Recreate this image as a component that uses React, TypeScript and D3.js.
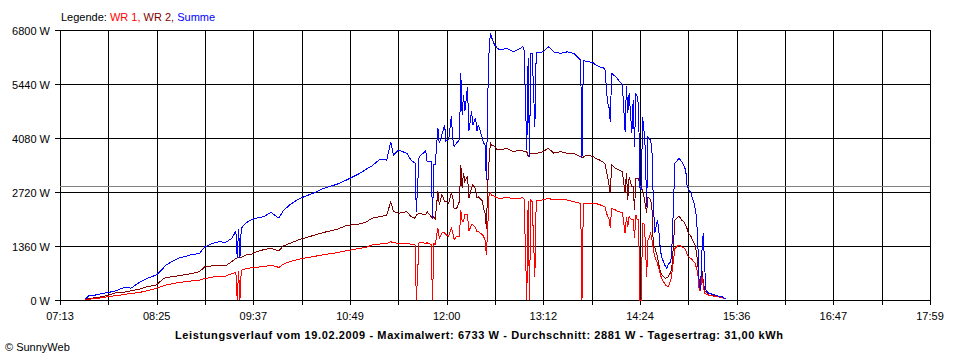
import React from 'react';
import * as d3 from 'd3';

// ---- axis / labels ----
const timeLabels = ['07:13', '08:25', '09:37', '10:49', '12:00', '13:12', '14:24', '15:36', '16:47', '17:59'];
const yTicks = [0, 1360, 2720, 4080, 5440, 6800];
const averageW = 2881;
const titleText = 'Leistungsverlauf vom 19.02.2009 - Maximalwert: 6733 W - Durchschnitt: 2881 W - Tagesertrag: 31,00 kWh';

// ---- data (time of day, W) ----
const times = [
  '07:32', '07:35', '07:41', '07:45', '07:49', '07:55', '08:00', '08:03', '08:06', '08:12',
  '08:18', '08:25', '08:30', '08:32', '08:41', '08:51', '08:57', '09:01', '09:07', '09:12',
  '09:16', '09:21', '09:24', '09:25', '09:26', '09:27', '09:28', '09:31', '09:36', '09:41',
  '09:45', '09:50', '09:56', '09:59', '10:04', '10:11', '10:21', '10:29', '10:39', '10:46',
  '10:56', '11:01', '11:05', '11:11', '11:16', '11:19', '11:21', '11:25', '11:31', '11:34',
  '11:37', '11:38', '11:40', '11:45', '11:46', '11:49', '11:50', '11:51', '11:52', '11:54',
  '11:55', '11:57', '11:59', '12:00', '12:02', '12:04', '12:05', '12:06', '12:08', '12:10',
  '12:11', '12:12', '12:13', '12:14', '12:16', '12:17', '12:19', '12:20', '12:22', '12:23',
  '12:24', '12:27', '12:28', '12:29', '12:30', '12:31', '12:32', '12:33', '12:34', '12:36',
  '12:38', '12:40', '12:45', '12:50', '12:55', '12:57', '12:58', '13:00', '13:01', '13:02',
  '13:03', '13:04', '13:06', '13:07', '13:12', '13:16', '13:20', '13:25', '13:30', '13:35',
  '13:40', '13:41', '13:42', '13:44', '13:49', '13:51', '13:54', '13:56', '13:58', '14:00',
  '14:01', '14:02', '14:03', '14:06', '14:08', '14:11', '14:13', '14:14', '14:15', '14:16',
  '14:18', '14:19', '14:20', '14:21', '14:22', '14:23', '14:24', '14:25', '14:26', '14:27',
  '14:28', '14:29', '14:30', '14:32', '14:33', '14:34', '14:35', '14:37', '14:38', '14:39',
  '14:40', '14:43', '14:44', '14:45', '14:47', '14:48', '14:50', '14:52', '14:53', '14:55',
  '14:57', '14:58', '14:59', '15:00', '15:02', '15:03', '15:04', '15:05', '15:06', '15:07',
  '15:08', '15:09', '15:10', '15:11', '15:12', '15:13', '15:15', '15:20', '15:22', '15:25',
  '15:27', '15:28',
];

const wr1 = [
  0, 20, 40, 60, 85, 110, 130, 150, 165, 185,
  235, 295, 350, 380, 435, 480, 500, 540, 580, 590,
  600, 660, 700, 0, 720, 0, 750, 780, 820, 830,
  840, 880, 820, 900, 965, 1030, 1090, 1140, 1190, 1240,
  1300, 1330, 1385, 1410, 1420, 1470, 1440, 1430, 1430, 1400,
  1385, 0, 1450, 1430, 1440, 1400, 0, 1420, 1395, 1815,
  1560, 1690, 1690, 1645, 1600, 1815, 1700, 1520, 1605, 1605,
  2275, 1980, 1980, 2150, 2150, 1730, 1895, 1895, 1820, 1730,
  1730, 1645, 1600, 1500, 1140, 1815, 2650, 2695, 2640, 2610,
  2570, 2560, 2580, 2560, 2560, 2580, 2540, 0, 2500, 0,
  2520, 2475, 590, 2500, 2520, 2560, 2520, 2520, 2520, 2475,
  2435, 0, 2435, 2435, 2420, 2435, 2400, 2380, 2350, 2100,
  2050, 1805, 2310, 2265, 2225, 2200, 1680, 2100, 1845, 2100,
  2015, 2015, 1555, 2140, 2015, 2015, 0, 0, 1930, 1930,
  1500, 590, 1500, 1680, 1500, 1260, 1100, 925, 800, 670,
  550, 380, 350, 335, 500, 755, 1300, 1360, 1385, 1340,
  1300, 1250, 1150, 1090, 1040, 1005, 960, 925, 800, 670,
  250, 250, 590, 400, 170, 150, 125, 85, 85, 60,
  40, 40,
];

const wr2 = [
  0, 40, 60, 85, 120, 185, 190, 210, 230, 270,
  335, 380, 530, 560, 610, 665, 715, 840, 860, 865,
  855, 965, 1050, 1060, 1060, 1070, 1075, 1130, 1160, 1235,
  1270, 1300, 1240, 1360, 1425, 1520, 1620, 1700, 1780, 1875,
  1915, 1970, 2060, 2100, 2140, 2475, 2225, 2185, 2225, 2100,
  2060, 2140, 2185, 2140, 2225, 2100, 2060, 2100, 2020, 2740,
  2400, 2650, 2485, 2485, 2440, 2695, 2600, 2315, 2315, 2485,
  3410, 2820, 3200, 2990, 3105, 2570, 2820, 2905, 2800, 2570,
  2600, 2500, 2300, 2200, 1800, 2905, 3495, 3955, 3900, 3870,
  3785, 3780, 3820, 3735, 3780, 3760, 3735, 3735, 3610, 3650,
  3700, 3695, 3695, 3690, 3735, 3820, 3700, 3735, 3695, 3695,
  3610, 3570, 3600, 3650, 3620, 3570, 3525, 3485, 3440, 3105,
  2900, 2685, 3400, 3315, 3280, 3230, 2685, 3200, 2520, 3105,
  2855, 2855, 2265, 3065, 3065, 3065, 2855, 2800, 2770, 2600,
  2400, 2200, 2600, 2520, 2265, 1340, 1340, 1090, 900, 755,
  650, 545, 560, 590, 700, 925, 2015, 2080, 2115, 2015,
  1950, 1890, 1800, 1680, 1600, 1510, 1450, 1385, 1200, 925,
  335, 400, 755, 500, 250, 200, 125, 100, 85, 60,
  40, 40,
];

const summe = [
  20, 110, 130, 170, 185, 235, 300, 320, 295, 435,
  545, 630, 800, 880, 1050, 1140, 1175, 1340, 1430, 1470,
  1445, 1550, 1740, 1060, 1780, 1070, 1800, 1930, 2030, 2075,
  2100, 2210, 2060, 2240, 2400, 2550, 2685, 2810, 2915, 3020,
  3190, 3300, 3375, 3550, 3525, 3985, 3650, 3780, 3690, 3525,
  3450, 2225, 3600, 3760, 3485, 3480, 2060, 3420, 3410, 4330,
  3945, 4165, 4415, 4000, 4040, 4630, 4080, 3870, 3955, 4040,
  5720, 4665, 5170, 4750, 5370, 4250, 4750, 4415, 4585, 4250,
  4415, 4080, 3950, 3900, 3020, 5090, 6260, 6733, 6600, 6430,
  6345, 6300, 6335, 6250, 6335, 6380, 6300, 3780, 6100, 3610,
  6200, 6210, 4365, 6220, 6250, 6380, 6250, 6210, 6250, 6210,
  6045, 3570, 6040, 6000, 5990, 5920, 5875, 5850, 5835, 4955,
  4870, 4490, 5710, 5625, 5540, 5415, 4240, 5400, 4700, 5205,
  4200, 5035, 3860, 5205, 5120, 4900, 2820, 2800, 4615, 4280,
  3800, 2340, 4100, 4030, 3700, 2435, 1680, 2015, 1765, 1340,
  1090, 840, 800, 900, 965, 1510, 3440, 3525, 3570, 3485,
  3350, 3275, 2895, 2800, 2685, 2550, 2475, 2300, 2100, 1430,
  400, 250, 1200, 1680, 925, 250, 170, 125, 100, 85,
  40, 40,
];

const FONT = '"Liberation Sans", Arial, sans-serif';

function toMinutes(s: string): number {
  const [h, m] = s.split(':').map(Number);
  return h * 60 + m;
}

export default function App() {
  const x = d3.scaleLinear().domain([433.4, 1079.4]).range([60, 930]);
  const y = d3.scaleLinear().domain([0, 6800]).range([300, 30]);

  const nGrid = 18;
  const gridVals = d3.range(nGrid + 1).map((i) => 433.4 + (i * (1079.4 - 433.4)) / nGrid);

  const tMin = times.map(toMinutes);
  const line = d3
    .line<[number, number]>()
    .x((d) => x(d[0]))
    .y((d) => y(d[1]))
    .curve(d3.curveLinear);

  const series = [
    { name: 'WR 2', color: '#800000', values: wr2 },
    { name: 'WR 1', color: '#ff0000', values: wr1 },
    { name: 'Summe', color: '#0000ff', values: summe },
  ];

  const px = (v: number) => Math.round(v) + 0.5;

  return (
    <svg
      width={960}
      height={360}
      style={{ position: 'absolute', left: 0, top: 0, background: '#fff', display: 'block' }}
      fontFamily={FONT}
    >
      <rect x={0} y={0} width={960} height={360} fill="#fff" />
      {/* legend */}
      <text x={61} y={20.5} fontSize={11}>
        <tspan fill="#000">Legende: </tspan>
        <tspan fill="#ff0000">WR 1, </tspan>
        <tspan fill="#800000">WR 2, </tspan>
        <tspan fill="#0000ff">Summe</tspan>
      </text>

      {/* grid, ticks, average line */}
      <g shapeRendering="crispEdges">
        {yTicks.map((t) => (
          <line key={'y' + t} x1={55} x2={930} y1={px(y(t))} y2={px(y(t))} stroke="#000" strokeWidth={1} />
        ))}
        {gridVals.map((g, i) => (
          <line key={'x' + i} x1={px(x(g))} x2={px(x(g))} y1={30} y2={305} stroke="#000" strokeWidth={1} />
        ))}
        <line x1={60} x2={930} y1={px(y(averageW))} y2={px(y(averageW))} stroke="#808080" strokeWidth={1} />
      </g>

      {/* y labels */}
      {yTicks.map((t) => (
        <text key={'yl' + t} x={50} y={y(t) + 4.5} fontSize={11} textAnchor="end" fill="#000">
          {t} W
        </text>
      ))}

      {/* x labels */}
      {timeLabels.map((l, i) => (
        <text key={'xl' + l} x={x(gridVals[i * 2])} y={320} fontSize={11} textAnchor="middle" fill="#000">
          {l}
        </text>
      ))}

      {/* series */}
      <g shapeRendering="crispEdges" fill="none">
        {series.map((s) => (
          <path
            key={s.name}
            d={line(tMin.map((t, i) => [t, s.values[i]] as [number, number])) || ''}
            stroke={s.color}
            strokeWidth={1}
            strokeLinejoin="miter"
          />
        ))}
      </g>

      {/* title */}
      <text x={175} y={339} fontSize={11} fontWeight="bold" fill="#000" textLength={608} lengthAdjust="spacing">
        {titleText}
      </text>
      <text x={5} y={351} fontSize={11} fill="#000">
        © SunnyWeb
      </text>
    </svg>
  );
}
